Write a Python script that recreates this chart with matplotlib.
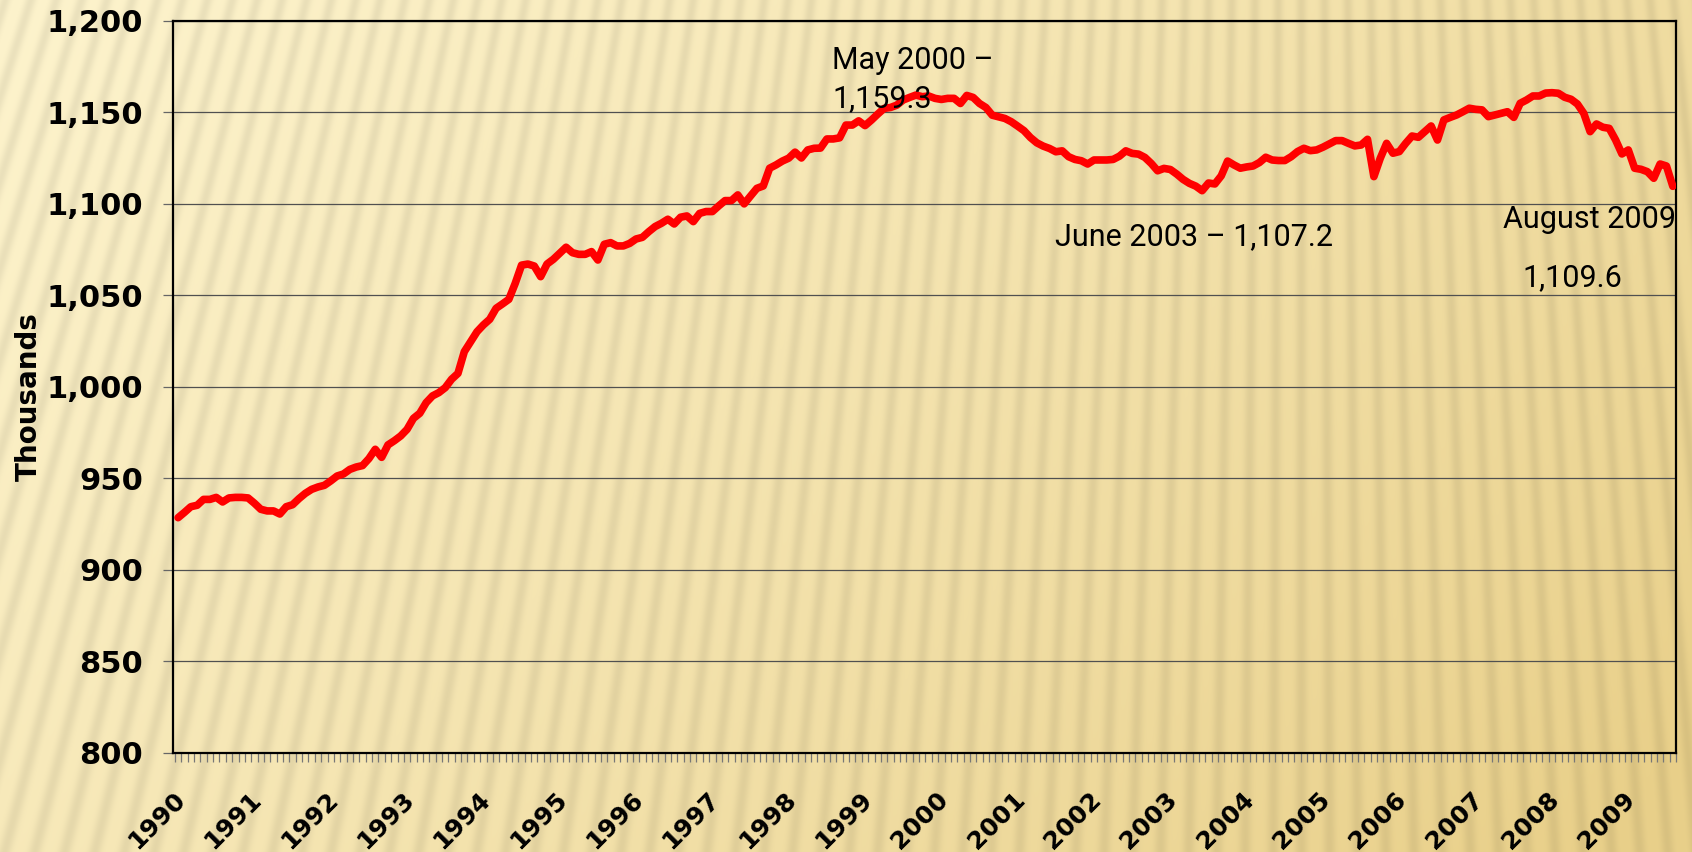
import numpy as np
import matplotlib.pyplot as plt
from matplotlib.ticker import FuncFormatter

# monthly values, Jan 1990 - Aug 2009 (thousands)
employment = [
    928.4, 931.3, 934.4, 935.2, 938.4, 938.4, 939.5, 937.0, 939.2, 939.5, 939.5, 939.2,
    936.3, 933.0, 932.1, 932.1, 930.4, 934.4, 935.5, 938.8, 941.7, 943.9, 945.2, 946.1,
    948.5, 951.2, 952.3, 954.8, 956.1, 956.9, 960.7, 965.8, 961.4, 968.2, 970.5, 973.1,
    976.7, 982.7, 985.5, 991.3, 995.0, 996.8, 999.5, 1004.1, 1007.3, 1019.2, 1024.7, 1030.1,
    1033.8, 1036.9, 1042.9, 1045.3, 1047.8, 1056.5, 1066.5, 1067.1, 1066.0, 1060.2, 1067.1, 1069.7,
    1073.0, 1076.3, 1073.3, 1072.4, 1072.4, 1073.9, 1069.3, 1077.9, 1078.8, 1077.0, 1077.0, 1078.4,
    1080.8, 1081.7, 1084.8, 1087.6, 1089.4, 1091.6, 1089.0, 1092.7, 1093.4, 1090.3, 1094.8, 1095.8,
    1095.8, 1098.9, 1101.8, 1101.8, 1104.9, 1100.0, 1104.3, 1108.5, 1109.8, 1119.5, 1121.3, 1123.4,
    1125.0, 1128.3, 1125.1, 1129.5, 1130.4, 1130.5, 1135.5, 1135.5, 1136.1, 1143.1, 1143.1, 1145.4,
    1142.8, 1145.8, 1149.1, 1152.2, 1152.7, 1154.0, 1156.8, 1158.2, 1159.5, 1158.6, 1159.0, 1157.7,
    1157.1, 1157.7, 1157.7, 1154.9, 1159.3, 1158.2, 1154.9, 1152.7, 1148.5, 1147.6, 1146.7, 1144.9,
    1142.5, 1140.0, 1136.3, 1133.4, 1131.6, 1130.3, 1128.5, 1129.0, 1125.8, 1124.3, 1123.6, 1121.8,
    1124.0, 1124.0, 1124.0, 1124.3, 1126.1, 1129.0, 1127.6, 1127.2, 1125.4, 1122.1, 1118.1, 1119.4,
    1118.8, 1116.3, 1113.4, 1111.2, 1109.7, 1107.2, 1111.4, 1110.9, 1115.3, 1123.4, 1121.3, 1119.5,
    1120.2, 1120.7, 1122.6, 1125.5, 1124.0, 1123.7, 1123.7, 1125.8, 1128.6, 1130.4, 1129.1, 1129.5,
    1131.0, 1132.8, 1134.6, 1134.6, 1133.1, 1131.7, 1132.2, 1135.3, 1114.9, 1124.9, 1133.1, 1127.7,
    1128.6, 1133.1, 1137.1, 1136.4, 1139.5, 1142.6, 1134.9, 1145.9, 1147.3, 1148.6, 1150.4, 1152.3,
    1151.7, 1151.4, 1147.7, 1148.6, 1149.5, 1150.4, 1147.3, 1155.0, 1156.8, 1159.0, 1159.0, 1160.6,
    1160.8, 1160.5, 1158.3, 1157.2, 1154.6, 1149.5, 1139.5, 1143.7, 1141.9, 1141.3, 1135.0, 1127.3,
    1129.5, 1119.5, 1118.9, 1117.6, 1114.0, 1121.8, 1120.7, 1109.6,
]
year_labels = [str(y) for y in range(1990, 2010)]
y_ticks = [800, 850, 900, 950, 1000, 1050, 1100, 1150, 1200]

W, H = 1692, 852
fig = plt.figure(figsize=(W / 100, H / 100), dpi=100)

# background: cream-to-gold gradient with faint diagonal stripes
yy, xx = np.mgrid[0:H, 0:W].astype(float)
t = np.clip(0.7 * xx / W + 0.35 * yy / H, 0, 1) ** 1.2
light = np.array([253, 243, 204]) / 255
dark = np.array([233, 208, 138]) / 255
img = light * (1 - t[..., None]) + dark * t[..., None]
theta = np.arctan2(xx - 1300, yy + 4000)
stripe = (0.5 + 0.5 * np.cos(2 * np.pi * theta / 0.0058)) ** 2
img = img * (1 - 0.07 * stripe[..., None])
bg = fig.add_axes([0, 0, 1, 1], zorder=-1)
bg.imshow(img, aspect='auto', extent=(0, 1, 0, 1))
bg.axis('off')

ax = fig.add_axes([173 / W, 1 - 752.5 / H, 1503 / W, 731.5 / H])
ax.set_facecolor('none')

x = np.arange(len(employment))
ax.plot(x, employment, color='#ff0000', lw=5.5, solid_joinstyle='round',
        solid_capstyle='round', zorder=3)

ax.set_xlim(-0.5, len(employment) - 0.5)
ax.set_ylim(800, 1200)
ax.set_yticks(y_ticks)
ax.yaxis.set_major_formatter(FuncFormatter(lambda v, p: f'{v:,.0f}'))
ax.grid(axis='y', color='#505050', lw=0.9)
ax.tick_params(axis='y', length=7.5, width=0.9, color='#666666', pad=14,
               labelsize=22)
for lbl in ax.get_yticklabels():
    lbl.set_fontweight('bold')

ax.set_xticks(np.arange(0, len(employment), 12) - 0.8)
ax.set_xticklabels(year_labels, rotation=45, ha='right', va='top',
                   rotation_mode='anchor', fontsize=18, fontweight='bold')
ax.set_xticks(np.arange(-0.5, len(employment)), minor=True)
ax.tick_params(axis='x', which='major', length=0, pad=25)
ax.tick_params(axis='x', which='minor', length=6.5, width=0.9, color='#777777')

for s in ax.spines.values():
    s.set_color('black')
    s.set_linewidth(1.6)

fig.text(29 / W, 1 - 397 / H, 'Thousands', rotation=90, ha='center',
         va='center', fontsize=20, fontweight='bold')

afont = dict(family='Roboto', fontsize=22, color='black', va='baseline', zorder=5)
fig.text(832 / W, 1 - 69 / H, 'May 2000 –', **afont)
fig.text(832 / W, 1 - 107 / H, '1,159.3', **afont)
fig.text(1055 / W, 1 - 245 / H, 'June 2003 – 1,107.2', **afont)
fig.text(1503 / W, 1 - 228 / H, 'August 2009', **afont)
fig.text(1522 / W, 1 - 286 / H, '1,109.6', **afont)

fig.savefig('out.png', dpi=100)
